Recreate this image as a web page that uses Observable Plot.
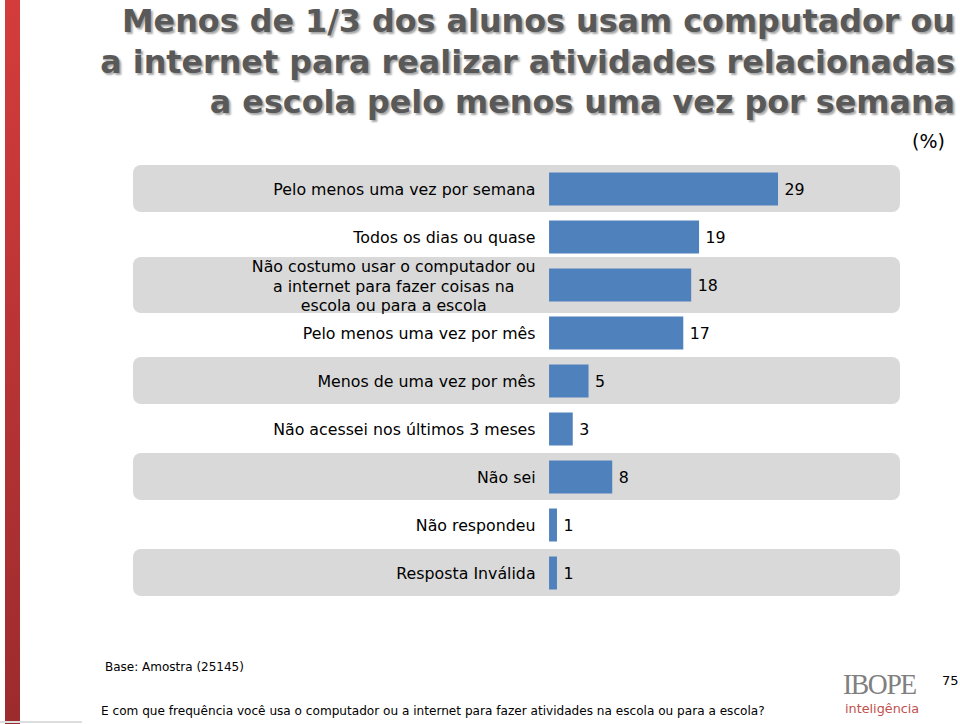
<!DOCTYPE html>
<html>
<head>
<meta charset="utf-8">
<script src="https://cdn.jsdelivr.net/npm/d3@7"></script>
<script src="https://cdn.jsdelivr.net/npm/@observablehq/plot@0.6"></script>
<style>
  html, body { margin: 0; padding: 0; background: #fff; }
  #page { position: relative; width: 960px; height: 724px; overflow: hidden; font-family: "DejaVu Sans", Verdana, sans-serif; }
  #redbar { position: absolute; left: 5px; top: 0; width: 15px; height: 724px; background: linear-gradient(#d43c3c, #9c2b2d); }
  #baseline { position: absolute; left: 0; top: 721px; width: 82px; height: 2px; background: #ddd; }
  #title { position: absolute; right: 5px; top: 1px; width: 900px; text-align: right; font-weight: bold; font-size: 31.8px; line-height: 40.5px; color: #595959; text-shadow: 2px 2px 2px rgba(0,0,0,0.35); }
  #unit { position: absolute; left: 912px; top: 130px; font-size: 19px; color: #000; }
  #chart { position: absolute; left: 0; top: 150px; }
  #base { position: absolute; left: 105px; top: 660px; font-size: 12px; color: #000; }
  #question { position: absolute; left: 101px; top: 704px; font-size: 12.1px; color: #000; white-space: nowrap; }
  #ibope { position: absolute; left: 843px; top: 671px; font-family: "Liberation Serif", "DejaVu Serif", serif; font-size: 30px; color: #808080; letter-spacing: -1.5px; transform: scaleX(0.92); transform-origin: left; line-height: 26px; }
  #intel { position: absolute; left: 845px; top: 702px; font-size: 12.8px; line-height: 13px; color: #c0504d; }
  #page-num { position: absolute; left: 942px; top: 673px; font-size: 13px; color: #000; }
</style>
</head>
<body>
<div id="page">
  <div id="redbar"></div>
  <div id="baseline"></div>
  <div id="title">Menos de 1/3 dos alunos usam computador ou<br>a internet para realizar atividades relacionadas<br>a escola pelo menos uma vez por semana</div>
  <div id="unit">(%)</div>
  <div id="chart"></div>
  <div id="base">Base: Amostra (25145)</div>
  <div id="question">E com que frequência você usa o computador ou a internet para fazer atividades na escola ou para a escola?</div>
  <div id="ibope">IBOPE</div>
  <div id="intel">inteligência</div>
  <div id="page-num">75</div>
</div>
<script>
const categories = [
  "Pelo menos uma vez por semana",
  "Todos os dias ou quase",
  "Não costumo usar o computador ou\na internet para fazer coisas na\nescola ou para a escola",
  "Pelo menos uma vez por mês",
  "Menos de uma vez por mês",
  "Não acessei nos últimos 3 meses",
  "Não sei",
  "Não respondeu",
  "Resposta Inválida"
];
const values = [29, 19, 18, 17, 5, 3, 8, 1, 1];
const shadedRows = [true, false, true, false, true, false, true, false, true];

const rows = categories.map((label, i) => ({label, value: values[i], shaded: shadedRows[i]}));
const single = rows.filter(d => !d.label.includes("\n"));
const multi = rows.filter(d => d.label.includes("\n"));

const fontSize = 15.8;
const labelFont = `${fontSize}px 'DejaVu Sans', Verdana, sans-serif`;
const ctx = document.createElement("canvas").getContext("2d");
ctx.font = labelFont;
const multiWidth = d3.max(multi.flatMap(d => d.label.split("\n")), s => ctx.measureText(s).width) || 0;
const labelGap = 14;

// x scale domain chosen so that the grey row bands span the full plot width
const xLo = -52.7, xHi = 44.45;

const chart = Plot.plot({
  width: 960,
  height: 460,
  marginLeft: 133,
  marginRight: 60,
  marginTop: 13,
  marginBottom: 12,
  x: {domain: [xLo, xHi], axis: null},
  y: {type: "band", domain: categories, padding: 0, axis: null},
  style: {fontFamily: "'DejaVu Sans', Verdana, sans-serif", background: "transparent"},
  marks: [
    Plot.barX(rows.filter(d => d.shaded && !d.label.includes("\n")), {
      x1: xLo, x2: xHi, y: "label", fill: "#d9d9d9", rx: 8, ry: 8, insetTop: 0, insetBottom: 1
    }),
    Plot.barX(rows.filter(d => d.shaded && d.label.includes("\n")), {
      x1: xLo, x2: xHi, y: "label", fill: "#d9d9d9", rx: 8, ry: 8, insetTop: -4, insetBottom: -4
    }),
    Plot.barX(rows, {x1: 0, x2: "value", y: "label", fill: "#4f81bd", insetTop: 7.5, insetBottom: 7.5}),
    Plot.text(single, {x: 0, y: "label", text: "label", textAnchor: "end", dx: -labelGap, fontSize, fill: "#000"}),
    Plot.text(multi, {x: 0, y: "label", text: "label", textAnchor: "middle", dx: -labelGap - multiWidth / 2, fontSize, lineHeight: 1.24, fill: "#000"}),
    Plot.text(rows, {x: "value", y: "label", text: d => String(d.value), textAnchor: "start", dx: 6, fontSize, fill: "#000"})
  ]
});
document.getElementById("chart").appendChild(chart);
</script>
</body>
</html>
